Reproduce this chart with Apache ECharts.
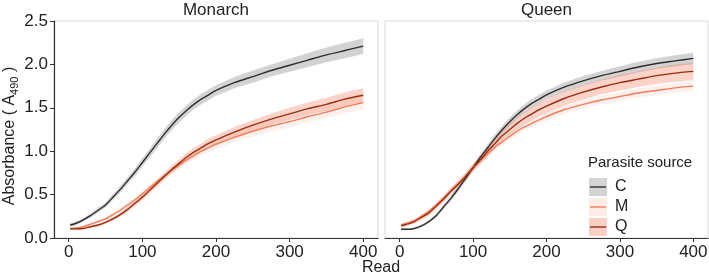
<!DOCTYPE html>
<html>
<head>
<meta charset="utf-8">
<script src="https://cdn.jsdelivr.net/npm/echarts@6.0.0/dist/echarts.min.js"></script>
<style>
  html,body{margin:0;padding:0;background:#fff;}
  #chart{width:709px;height:277px;}
</style>
</head>
<body>
<div id="chart"></div>
<script>
// reads (x) shared by every curve
var reads = [2,10,20,30,40,50,60,70,80,90,100,110,120,130,140,150,160,170,180,190,200,225,250,275,300,325,350,375,400];

// Monarch panel: mean absorbance
var monarchC = [0.15,0.17,0.21,0.26,0.32,0.38,0.47,0.56,0.66,0.76,0.87,0.98,1.09,1.20,1.30,1.39,1.47,1.54,1.60,1.65,1.70,1.79,1.86,1.93,1.99,2.05,2.11,2.16,2.21];
var monarchM = [0.11,0.115,0.13,0.16,0.19,0.22,0.27,0.32,0.38,0.44,0.51,0.58,0.65,0.72,0.78,0.84,0.90,0.95,1.00,1.04,1.08,1.16,1.23,1.29,1.34,1.40,1.45,1.51,1.56];
var monarchQ = [0.105,0.105,0.11,0.13,0.15,0.18,0.22,0.27,0.33,0.40,0.47,0.55,0.63,0.71,0.79,0.86,0.93,0.99,1.04,1.09,1.13,1.22,1.30,1.37,1.43,1.49,1.54,1.60,1.645];
// Monarch panel: ribbon half widths
var monarchCse = [0.02,0.02,0.02,0.025,0.03,0.03,0.035,0.04,0.04,0.045,0.05,0.05,0.055,0.055,0.06,0.06,0.06,0.06,0.06,0.06,0.06,0.065,0.07,0.07,0.075,0.08,0.085,0.09,0.09];
var monarchMse = [0.01,0.01,0.01,0.015,0.015,0.02,0.02,0.025,0.025,0.03,0.03,0.035,0.035,0.04,0.04,0.045,0.045,0.05,0.05,0.05,0.055,0.055,0.06,0.06,0.065,0.065,0.07,0.07,0.075];
var monarchQse = [0.01,0.01,0.01,0.015,0.015,0.02,0.02,0.025,0.03,0.03,0.035,0.035,0.04,0.04,0.045,0.045,0.05,0.05,0.05,0.055,0.055,0.06,0.06,0.065,0.07,0.07,0.075,0.08,0.08];

// Queen panel: mean absorbance
var queenC = [0.10,0.10,0.11,0.14,0.19,0.26,0.36,0.46,0.57,0.69,0.81,0.93,1.04,1.15,1.25,1.34,1.42,1.49,1.55,1.60,1.65,1.74,1.81,1.87,1.92,1.97,2.01,2.04,2.07];
var queenM = [0.15,0.17,0.20,0.25,0.31,0.38,0.46,0.55,0.63,0.72,0.81,0.89,0.97,1.05,1.11,1.17,1.23,1.28,1.32,1.36,1.40,1.48,1.54,1.59,1.63,1.67,1.70,1.73,1.75];
var queenQ = [0.14,0.16,0.19,0.24,0.29,0.37,0.45,0.54,0.62,0.71,0.81,0.90,1.00,1.09,1.18,1.25,1.32,1.38,1.43,1.48,1.52,1.61,1.68,1.74,1.79,1.83,1.87,1.90,1.92];
// Queen panel: ribbon half widths
var queenCse = [0.01,0.01,0.01,0.015,0.02,0.02,0.025,0.03,0.03,0.035,0.035,0.04,0.04,0.045,0.045,0.05,0.05,0.05,0.05,0.05,0.05,0.055,0.055,0.055,0.06,0.06,0.06,0.065,0.065];
var queenMse = [0.02,0.02,0.02,0.025,0.025,0.03,0.03,0.03,0.035,0.035,0.035,0.04,0.04,0.04,0.04,0.045,0.045,0.045,0.045,0.05,0.05,0.05,0.05,0.05,0.05,0.055,0.055,0.055,0.055];
var queenQse = [0.02,0.02,0.025,0.03,0.03,0.035,0.04,0.04,0.045,0.045,0.05,0.05,0.055,0.06,0.06,0.065,0.07,0.07,0.075,0.075,0.08,0.08,0.085,0.085,0.09,0.09,0.095,0.1,0.1];

var xTicks = [0,100,200,300,400];
var panels = ['Monarch','Queen'];
var groups = ['C','M','Q'];

var lineColor = {C:'#2e2e2e', M:'#f47a58', Q:'#9a2d0e'};
var fillColor = {C:'rgba(120,120,120,0.33)', M:'rgba(248,150,120,0.14)', Q:'rgba(244,120,90,0.33)'};
var keyFill   = {C:'#d4d4d4', M:'#fdede6', Q:'#fbd0c4'};

var FONT = 'Liberation Sans, Arial, sans-serif';

//ribbon drawn as one polygon through the axis scale
function ribbonSeries(gi, mean, se, color){
  var data = reads.map(function(r,i){ return [r, mean[i]-se[i], mean[i]+se[i]]; });
  return {
    type:'custom', xAxisIndex:gi, yAxisIndex:gi, silent:true, z:1,
    data:data,
    encode:{x:0, y:[1,2]},
    renderItem:function(params, api){
      if(params.dataIndex !== 0) return null;
      var up = [], lo = [];
      for(var i=0;i<data.length;i++){
        up.push(api.coord([data[i][0], data[i][2]]));
        lo.unshift(api.coord([data[i][0], data[i][1]]));
      }
      return {type:'polygon', shape:{points:up.concat(lo)}, style:{fill:color}};
    }
  };
}

function lineSeries(gi, mean, color){
  return {
    type:'line', xAxisIndex:gi, yAxisIndex:gi, z:3,
    data:reads.map(function(r,i){ return [r, mean[i]]; }),
    showSymbol:false, smooth:0.2,
    lineStyle:{color:color, width:1.4},
    silent:true
  };
}

var grids = [
  {left:54, top:21, width:324, height:217},
  {left:385, top:21, width:323, height:217}
];

var xAxes = grids.map(function(g,i){
  return {
    type:'value', gridIndex:i, min:-20, max:420,
    splitLine:{show:false},
    axisLine:{show:true, onZero:false, lineStyle:{color:'#333', width:1.2}},
    axisTick:{show:true, length:4, customValues:xTicks, lineStyle:{color:'#333'}},
    axisLabel:{customValues:xTicks, fontSize:17, color:'#222', margin:6, fontFamily:FONT}
  };
});

var yAxes = grids.map(function(g,i){
  return {
    type:'value', gridIndex:i, min:0, max:2.5, interval:0.5,
    splitLine:{show:false},
    axisLine:{show:i===0, onZero:false, lineStyle:{color:'#333', width:1.2}},
    axisTick:{show:i===0, length:4, lineStyle:{color:'#333'}},
    axisLabel:{show:i===0, fontSize:17, color:'#222', margin:6, fontFamily:FONT,
      formatter:function(v){ return v.toFixed(1); }}
  };
});

var series = [];
var panelData = [
  {C:monarchC, M:monarchM, Q:monarchQ, Cse:monarchCse, Mse:monarchMse, Qse:monarchQse},
  {C:queenC, M:queenM, Q:queenQ, Cse:queenCse, Mse:queenMse, Qse:queenQse}
];
panelData.forEach(function(p, gi){
  groups.forEach(function(k){ series.push(ribbonSeries(gi, p[k], p[k+'se'], fillColor[k])); });
  groups.forEach(function(k){ series.push(lineSeries(gi, p[k], lineColor[k])); });
});

//panel titles, axis titles and legend
var graphic = [];
panels.forEach(function(name, i){
  graphic.push({type:'text', x:grids[i].left + grids[i].width/2, y:10,
    style:{text:name, font:'17px ' + FONT, fill:'#222', textAlign:'center', textVerticalAlign:'middle'}});
});
graphic.push({type:'text', x:381, y:268,
  style:{text:'Read', font:'16px ' + FONT, fill:'#222', textAlign:'center', textVerticalAlign:'middle'}});
graphic.push({type:'text', x:10, y:136, rotation:Math.PI/2,
  style:{text:'Absorbance ( A{s|490} )', font:'16px ' + FONT, fill:'#222', textAlign:'center', textVerticalAlign:'middle',
    rich:{s:{fontSize:11, fontFamily:FONT, fill:'#222', padding:[9,0,0,0]}}}});

graphic.push({type:'text', x:588, y:163,
  style:{text:'Parasite source', font:'15px ' + FONT, fill:'#222', textVerticalAlign:'middle'}});
groups.forEach(function(k, i){
  var cy = 187 + i*20;
  graphic.push({type:'rect', shape:{x:589, y:cy-9, width:18, height:18}, style:{fill:keyFill[k]}});
  graphic.push({type:'line', shape:{x1:590, y1:cy, x2:606, y2:cy}, style:{stroke:lineColor[k], lineWidth:1.4}});
  graphic.push({type:'text', x:615, y:cy,
    style:{text:k, font:'16px ' + FONT, fill:'#222', textVerticalAlign:'middle'}});
});

var option = {
  backgroundColor:'#fff',
  animation:false,
  grid:grids.map(function(g){
    return {left:g.left, top:g.top, width:g.width, height:g.height, show:true,
      borderColor:'#dadada', borderWidth:1, backgroundColor:'transparent', outerBoundsMode:'none'};
  }),
  xAxis:xAxes,
  yAxis:yAxes,
  series:series,
  graphic:graphic
};

var myChart = echarts.init(document.getElementById('chart'));
myChart.setOption(option);
</script>
</body>
</html>
